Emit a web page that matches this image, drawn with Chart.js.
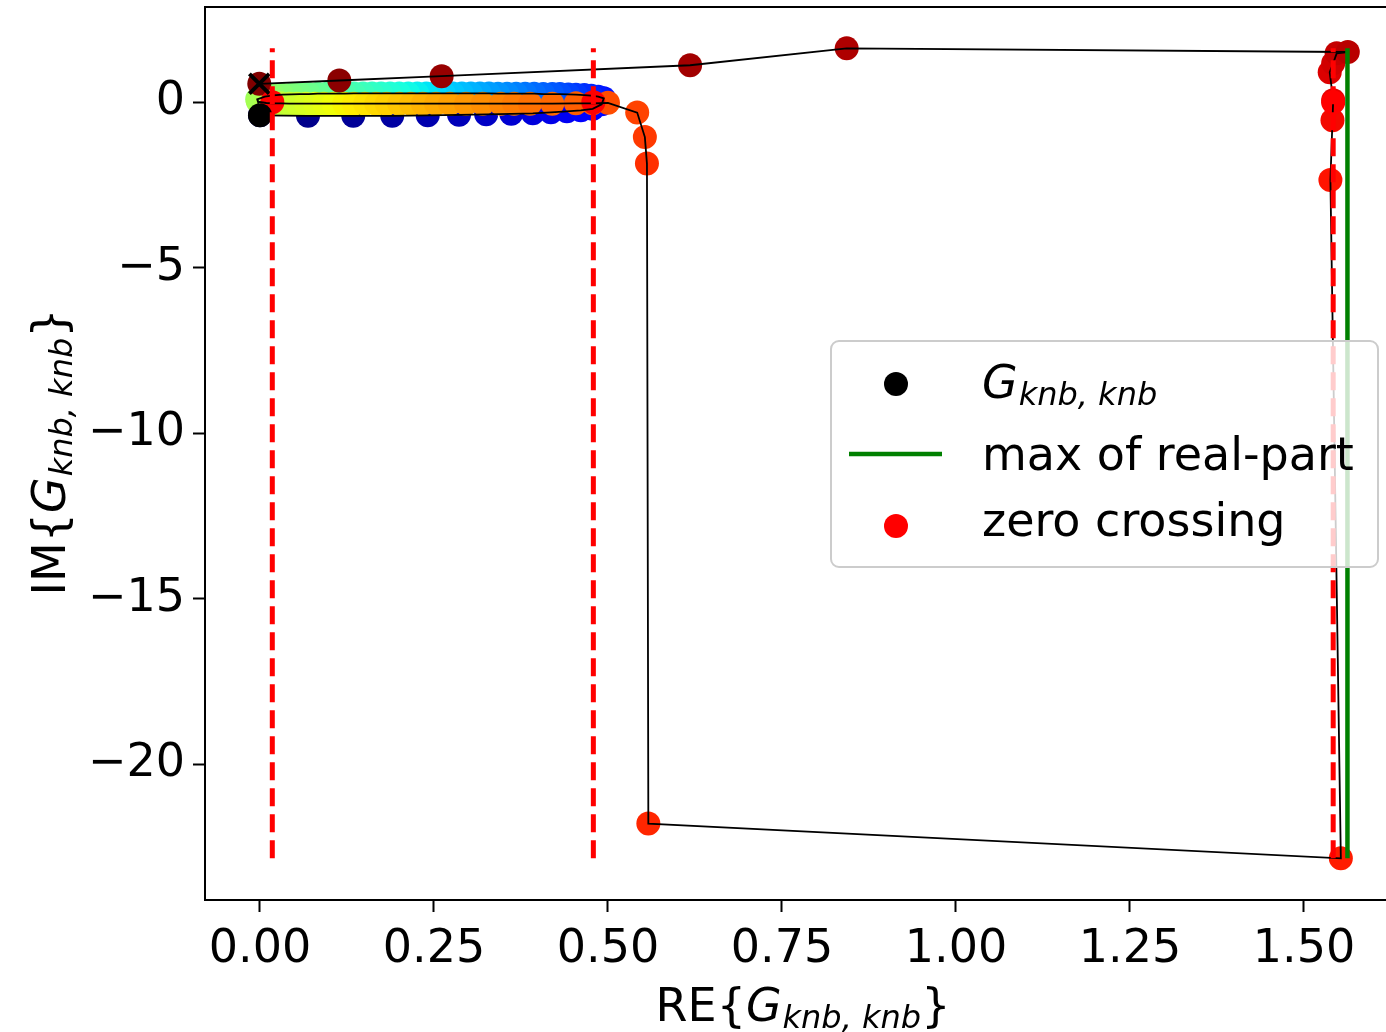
<!DOCTYPE html>
<html><head><meta charset="utf-8">
<script src="https://cdn.jsdelivr.net/npm/chart.js@4/dist/chart.umd.min.js"></script>
<style>html,body{margin:0;padding:0;overflow:hidden;background:#fff}canvas{display:block}</style>
</head><body>
<canvas id="c" width="1400" height="1032"></canvas>
<script>
// ---- data (Re / Im of G_knb,knb) ----
const reBottom = [0.000,0.069,0.134,0.190,0.241,0.286,0.325,0.361,0.392,0.418,0.441,0.461,0.478,0.491];
const imBottom = [-0.392,-0.407,-0.407,-0.407,-0.392,-0.377,-0.362,-0.347,-0.332,-0.302,-0.271,-0.241,-0.196,-0.060];
const reTop = [0.494,0.486,0.476,0.466,0.454,0.443,0.431,0.420,0.407,0.394,0.381,0.368,0.355,0.342,0.329,0.316,0.303,0.290,0.277,0.264,0.251,0.239,0.226,0.213,0.200,0.187,0.174,0.161,0.148,0.135,0.122,0.109,0.096,0.083,0.070,0.057,0.045,0.032,0.019,0.007];
const imTop = [0.12,0.17,0.20,0.22,0.23,0.24,0.25,0.25,0.25,0.26,0.26,0.26,0.26,0.26,0.27,0.27,0.27,0.27,0.27,0.27,0.27,0.27,0.27,0.27,0.27,0.27,0.27,0.27,0.27,0.27,0.26,0.26,0.26,0.26,0.25,0.25,0.24,0.23,0.21,0.17];
const reTurn = [-0.004,-0.003];
const imTurn = [0.09,0.02];
const reMiddle = [0.009,0.019,0.030,0.042,0.053,0.066,0.079,0.092,0.106,0.121,0.135,0.151,0.167,0.182,0.200,0.217,0.234,0.253,0.273,0.296,0.320,0.346,0.365,0.388,0.420,0.454];
const imMiddle = [-0.02,-0.03,-0.03,-0.04,-0.04,-0.04,-0.04,-0.04,-0.04,-0.04,-0.04,-0.04,-0.04,-0.04,-0.04,-0.04,-0.04,-0.04,-0.04,-0.04,-0.04,-0.04,-0.04,-0.04,-0.04,-0.03];
const reTail = [0.478,0.500,0.542,0.553,0.556,0.558,1.553,1.538,1.541,1.542,1.537,1.542,1.547,1.563,0.843,0.618,0.261,0.114,-0.001];
const imTail = [-0.03,-0.015,-0.31,-1.05,-1.85,-21.79,-22.84,-2.35,-0.54,0.06,0.91,1.18,1.48,1.52,1.63,1.12,0.79,0.66,0.56];

const zeroRe = [0.0177, 0.479, 1.542];
const zeroIm = [0, 0, 0];
const maxRe = 1.5625;
const imRange = [-22.84, 1.63];

const xTickValues = [0, 0.25, 0.5, 0.75, 1.0, 1.25, 1.5];
const xTickLabels = ['0.00','0.25','0.50','0.75','1.00','1.25','1.50'];
const yTickValues = [-20, -15, -10, -5, 0];
const yTickLabels = ['\u221220','\u221215','\u221210','\u22125','0'];

const xTitleMain = 'RE', yTitleMain = 'IM', symMain = 'G', symSub = 'knb, knb';
const legendLabels = ['max of real-part', 'zero crossing'];

// ---- build ----
const reAll = [].concat(reBottom, reTop, reTurn, reMiddle, reTail);
const imAll = [].concat(imBottom, imTop, imTurn, imMiddle, imTail);
const pts = reAll.map((r, i) => ({x: r, y: imAll[i]}));

// matplotlib 'jet' colormap
function seg(v, s){ for (let i=1;i<s.length;i++){ if (v<=s[i][0]){ const a=s[i-1], b=s[i]; return a[1]+(b[1]-a[1])*(v-a[0])/(b[0]-a[0]); } } return s[s.length-1][1]; }
const JR=[[0,0],[0.35,0],[0.66,1],[0.89,1],[1,0.5]];
const JG=[[0,0],[0.125,0],[0.375,1],[0.64,1],[0.91,0],[1,0]];
const JB=[[0,0.5],[0.11,1],[0.34,1],[0.65,0],[1,0]];
function jet(v){ return 'rgb('+Math.round(255*seg(v,JR))+','+Math.round(255*seg(v,JG))+','+Math.round(255*seg(v,JB))+')'; }
const jetColors = pts.map((p,i)=>jet(i/(pts.length-1)));

const FONT = '"DejaVu Sans"';

function drawParts(ctx, parts, x, y, align){
  let w = 0;
  parts.forEach(p => { ctx.font = p.f; p.w = ctx.measureText(p.t).width; w += p.w + (p.gap||0); });
  let cx = align === 'center' ? x - w/2 : x;
  ctx.textAlign = 'left'; ctx.textBaseline = 'alphabetic';
  parts.forEach(p => { ctx.font = p.f; ctx.fillText(p.t, cx, y + (p.dy||0)); cx += p.w + (p.gap||0); });
}
function symParts(prefix, size){
  const parts = [];
  if (prefix !== null) parts.push({t: prefix + '{', f: size+'px '+FONT});
  parts.push({t: symMain, f: 'italic '+size+'px '+FONT, gap: 1});
  parts.push({t: symSub, f: 'italic '+Math.round(size*0.7)+'px '+FONT, dy: 7});
  if (prefix !== null) parts.push({t: '}', f: size+'px '+FONT});
  return parts;
}

const decor = {
  id: 'decor',
  afterDatasetsDraw(chart){
    const {ctx, chartArea: a} = chart;
    ctx.save();
    ctx.strokeStyle = '#000'; ctx.lineWidth = 2;
    ctx.strokeRect(a.left, a.top, a.right - a.left, a.bottom - a.top);
    ctx.restore();
  },
  afterDraw(chart){
    const ctx = chart.ctx;
    ctx.save();
    ctx.fillStyle = '#000';
    // axis titles
    drawParts(ctx, symParts(xTitleMain, 46), 803, 1021, 'center');
    ctx.save(); ctx.translate(65, 452); ctx.rotate(-Math.PI/2);
    drawParts(ctx, symParts(yTitleMain, 46), 0, 0, 'center');
    ctx.restore();
    // legend
    ctx.beginPath();
    ctx.roundRect(831, 341, 547, 226, 8);
    ctx.fillStyle = 'rgba(255,255,255,0.8)'; ctx.fill();
    ctx.strokeStyle = '#cccccc'; ctx.lineWidth = 2; ctx.stroke();
    ctx.fillStyle = '#000';
    ctx.beginPath(); ctx.arc(896, 384, 12, 0, Math.PI*2); ctx.fill();
    drawParts(ctx, symParts(null, 46), 982, 398, 'left');
    ctx.strokeStyle = '#008000'; ctx.lineWidth = 4.5;
    ctx.beginPath(); ctx.moveTo(849, 454); ctx.lineTo(942, 454); ctx.stroke();
    ctx.fillStyle = '#000'; ctx.font = '46px '+FONT; ctx.textBaseline = 'alphabetic';
    ctx.fillText(legendLabels[0], 982, 470);
    ctx.fillStyle = '#ff0000';
    ctx.beginPath(); ctx.arc(896, 526, 12, 0, Math.PI*2); ctx.fill();
    ctx.fillStyle = '#000';
    ctx.fillText(legendLabels[1], 982, 536);
    ctx.restore();
  }
};

const vline = (x) => [{x: x, y: imRange[0]}, {x: x, y: imRange[1]}];
const noPad = s => { s.paddingTop = 0; s.paddingBottom = 0; s.paddingLeft = 0; s.paddingRight = 0; };

new Chart(document.getElementById('c'), {
  type: 'scatter',
  data: {
    datasets: [
      {data: pts, pointRadius: 12, pointBorderWidth: 0, pointBackgroundColor: jetColors, backgroundColor: jetColors, order: 8},
      {data: zeroRe.map((r,i)=>({x:r, y:zeroIm[i]})), pointRadius: 12, pointBorderWidth: 0, pointBackgroundColor: '#ff0000', order: 7},
      {data: pts, showLine: true, borderColor: '#000', borderWidth: 1.8, pointRadius: 0, tension: 0, order: 6},
      {data: [pts[0]], pointRadius: 12, pointBorderWidth: 0, pointBackgroundColor: '#000', order: 5},
      {data: [pts[pts.length-1]], pointStyle: 'crossRot', pointRadius: 14, pointBorderWidth: 4, pointBorderColor: '#000', order: 4},
      {data: vline(zeroRe[0]), showLine: true, borderColor: '#ff0000', borderWidth: 5, borderDash: [18, 8], pointRadius: 0, order: 3},
      {data: vline(zeroRe[1]), showLine: true, borderColor: '#ff0000', borderWidth: 5, borderDash: [18, 8], pointRadius: 0, order: 3},
      {data: vline(zeroRe[2]), showLine: true, borderColor: '#ff0000', borderWidth: 5, borderDash: [18, 8], pointRadius: 0, order: 3},
      {data: vline(maxRe), showLine: true, borderColor: '#008000', borderWidth: 4.5, pointRadius: 0, order: 2}
    ]
  },
  options: {
    responsive: false, animation: false, devicePixelRatio: 1, events: [],
    layout: {padding: {top: 7, right: 0, left: 0, bottom: 0}, autoPadding: false},
    plugins: {legend: {display: false}, tooltip: {enabled: false}},
    scales: {
      x: {
        type: 'linear', min: -0.079, max: 1.638,
        afterBuildTicks: s => { s.ticks = xTickValues.map(v => ({value: v})); },
        afterFit: s => { s.height = 132; noPad(s); },
        ticks: {callback: (v, i) => xTickLabels[i], font: {family: 'DejaVu Sans', size: 46}, color: '#000', padding: 10, maxRotation: 0, autoSkip: false},
        grid: {display: true, drawOnChartArea: false, drawTicks: true, tickLength: 12, tickWidth: 2, tickColor: '#000'},
        border: {display: false}
      },
      y: {
        type: 'linear', min: -24.1, max: 2.88,
        afterBuildTicks: s => { s.ticks = yTickValues.map(v => ({value: v})); },
        afterFit: s => { s.width = 205; noPad(s); },
        ticks: {callback: (v, i) => yTickLabels[i], font: {family: 'DejaVu Sans', size: 46}, color: '#000', padding: 8, autoSkip: false},
        grid: {display: true, drawOnChartArea: false, drawTicks: true, tickLength: 12, tickWidth: 2, tickColor: '#000'},
        border: {display: false}
      }
    }
  },
  plugins: [decor]
});
</script>
</body></html>
